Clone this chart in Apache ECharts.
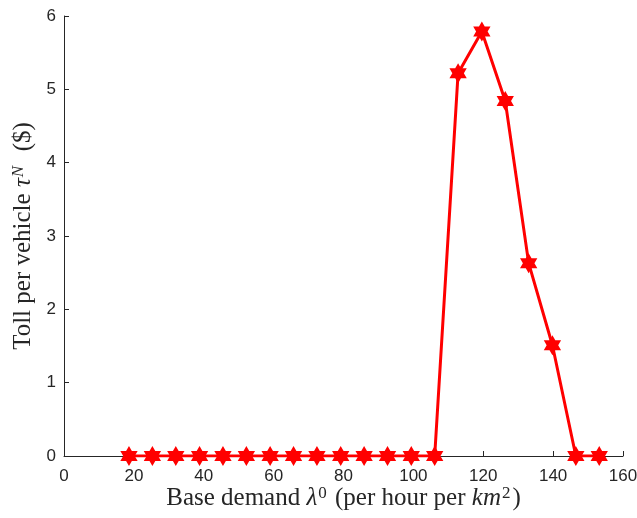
<!DOCTYPE html>
<html>
<head>
<meta charset="utf-8">
<script src="https://cdn.jsdelivr.net/npm/echarts@6/dist/echarts.min.js"></script>
<style>
  html, body { margin: 0; padding: 0; background: #fff; }
  #chart { width: 637px; height: 518px; }
</style>
</head>
<body>
<div id="chart"></div>
<script>
// Base demand (per hour per km^2) and resulting toll per vehicle ($)
const baseDemand = [18.6, 25.3, 32.0, 38.8, 45.5, 52.2, 59.0, 65.7, 72.4, 79.2, 85.9,
                    92.6, 99.4, 106.1, 112.8, 119.6, 126.3, 133.0, 139.8, 146.5, 153.2];
const toll = [0, 0, 0, 0, 0, 0, 0, 0, 0, 0, 0,
              0, 0, 0, 5.22, 5.79, 4.84, 2.63, 1.51, 0, 0];
const xTicks = [0, 20, 40, 60, 80, 100, 120, 140, 160];
const yTicks = [0, 1, 2, 3, 4, 5, 6];

const axisColor = '#262626';
const labelFont = '"Liberation Sans", Arial, sans-serif';
const titleFont = '"Liberation Serif", "DejaVu Serif", serif';

// six-pointed star marker
const hexagram = 'path://M0,-10 L2.887,-5 L8.66,-5 L5.774,0 L8.66,5 L2.887,5 L0,10 L-2.887,5 L-8.66,5 L-5.774,0 L-8.66,-5 L-2.887,-5 Z';

const titleRich = {
  n: { fontFamily: titleFont, fontSize: 25, color: axisColor },
  i: { fontFamily: titleFont, fontSize: 25, fontStyle: 'italic', color: axisColor },
  sup: { fontFamily: titleFont, fontSize: 17, color: axisColor, verticalAlign: 'top', padding: [0, 2, 10, 1] },
  supi: { fontFamily: titleFont, fontSize: 17, fontStyle: 'italic', color: axisColor, verticalAlign: 'top', padding: [0, 2, 10, 1] }
};

const chart = echarts.init(document.getElementById('chart'), null, { renderer: 'canvas' });
chart.setOption({
  animation: false,
  backgroundColor: '#fff',
  grid: { left: 64, right: 14, top: 16, bottom: 62, containLabel: false, outerBoundsMode: 'none' },
  xAxis: {
    type: 'value',
    min: xTicks[0],
    max: xTicks[xTicks.length - 1],
    interval: xTicks[1] - xTicks[0],
    name: '{n|Base demand }{i|λ}{sup|0}{n| (per hour per }{i|km}{sup|2}{n|)}',
    nameLocation: 'middle',
    nameGap: 29,
    nameMoveOverlap: false,
    nameTextStyle: { rich: titleRich },
    axisLine: { show: true, onZero: false, lineStyle: { color: axisColor, width: 1 } },
    axisTick: { show: true, inside: true, length: 5, lineStyle: { color: axisColor } },
    axisLabel: { color: axisColor, fontFamily: labelFont, fontSize: 17, margin: 12 },
    splitLine: { show: false }
  },
  yAxis: {
    type: 'value',
    min: yTicks[0],
    max: yTicks[yTicks.length - 1],
    interval: yTicks[1] - yTicks[0],
    name: '{n|Toll per vehicle }{i|τ}{supi|N}{n|  ($)}',
    nameLocation: 'middle',
    nameRotate: 90,
    nameGap: 27,
    nameMoveOverlap: false,
    nameTextStyle: { rich: titleRich },
    axisLine: { show: true, onZero: false, lineStyle: { color: axisColor, width: 1 } },
    axisTick: { show: true, inside: true, length: 5, lineStyle: { color: axisColor } },
    axisLabel: { color: axisColor, fontFamily: labelFont, fontSize: 17, margin: 8 },
    splitLine: { show: false }
  },
  series: [{
    type: 'line',
    data: baseDemand.map((x, i) => [x, toll[i]]),
    symbol: hexagram,
    symbolSize: 20,
    symbolKeepAspect: true,
    showAllSymbol: true,
    lineStyle: { color: '#ff0000', width: 3 },
    itemStyle: { color: '#ff0000', borderWidth: 0 },
    z: 3
  }]
});
</script>
</body>
</html>
